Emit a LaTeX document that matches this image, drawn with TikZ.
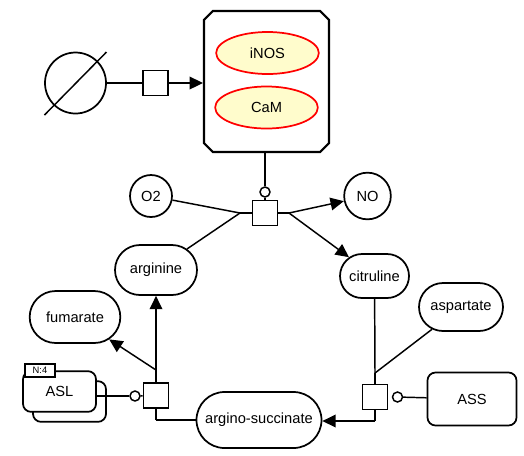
\documentclass[tikz,border=0pt]{standalone}
\usepackage{fontspec}
\setmainfont{Liberation Sans}
\usetikzlibrary{arrows.meta,shapes.misc,shapes.geometric}

\begin{document}
\begin{tikzpicture}[x=0.75pt,y=-0.75pt,
  font=\fontsize{11}{13}\selectfont,
  conn/.style={line width=1.1pt},
  prod/.style={conn,-{Triangle[length=10pt,width=9.5pt]}},
  simplechem/.style={draw,circle,line width=1.3pt,inner sep=0pt},
  macro/.style={draw,rounded rectangle,line width=1.3pt,inner sep=0pt,fill=white},
  enzyme/.style={draw,rectangle,rounded corners=6pt,line width=1.3pt,inner sep=0pt,fill=white},
  protein/.style={draw=red,fill=yellow!20,ellipse,line width=1.3pt,inner sep=0pt,minimum width=77pt,minimum height=31.5pt},
  procbox/.style={draw,rectangle,line width=1.3pt,fill=white,minimum size=18.75pt,inner sep=0pt},
  modcirc/.style={draw,circle,line width=1.1pt,fill=white,minimum size=7.5pt,inner sep=0pt}]

\useasboundingbox (0,0) rectangle (524,455);

% source / sink
\node [simplechem,minimum size=45.75pt] (empty) at (75.5,83) {};
\draw[conn] (empty.center) +(-31,32) -- +(31,-31);

% complex NOS
\node [draw,chamfered rectangle,chamfered rectangle xsep=4pt,line width=1.6pt,
  minimum width=93.75pt,minimum height=105.75pt] (nos) at (266.5,81.5) {};
\node [protein] (inos) at (267.5,53) {iNOS};
\node [protein] (cam) at (266.5,107.5) {CaM};

\node [procbox] (p1) at (155.5,83) {};
\draw[conn] (empty.east) -- (p1.west);
\draw[prod] (p1.east) -- (p1.east -| nos.west);

% NO synthesis
\node [simplechem,minimum size=31.5pt] (o2) at (151,196) {O2};
\node [simplechem,minimum size=35pt] (no) at (367.5,196) {NO};
\node [macro,minimum width=61.5pt,minimum height=37.5pt] (arginine) at (156,270) {arginine};
\node [macro,minimum width=51.75pt,minimum height=33pt] (citruline) at (374.5,276) {citruline};

\node [procbox] (p2) at (265,213) {};
\node [modcirc] (m2) at (265,192) {};
\coordinate (p2l) at (240,213);
\coordinate (p2r) at (289,213);
\draw[conn] (nos.south -| m2) -- (m2);
\draw[conn] (m2) -- (p2);
\draw[conn] (o2) -- (p2l);
\draw[conn] (arginine) -- (p2l);
\draw[conn] (p2l) -- (p2.west);
\draw[conn] (p2.east) -- (p2r);
\draw[prod] (p2r) -- (no);
\draw[prod] (p2r) -- (citruline);

% ASS step
\node [macro,minimum width=63pt,minimum height=36pt] (aspartate) at (461,307) {aspartate};
\node [enzyme,minimum width=66.75pt,minimum height=39.75pt] (ass) at (472,399) {ASS};
\node [macro,minimum width=93.75pt,minimum height=42pt] (succ) at (259,420) {argino-succinate};

\node [procbox] (p3) at (375,397) {};
\coordinate (p3t) at (375,373);
\coordinate (p3b) at (375,421);
\node [modcirc] (m3) at (397.5,397) {};
\draw[conn] (citruline) -- (p3t);
\draw[conn] (aspartate) -- (p3t);
\draw[conn] (p3t) -- (p3.north);
\draw[conn] (p3.south) -- (p3b);
\draw[prod] (p3b) -- (p3b -| succ.east);
\draw[conn] (m3) -- (ass);

% ASL step
\node [macro,minimum width=68pt,minimum height=39pt] (fumarate) at (75,317) {fumarate};
\node [enzyme,minimum width=54.75pt,minimum height=30.5pt] (asl2) at (69.5,401.5) {};
\node [enzyme,minimum width=54.75pt,minimum height=30.5pt] (asl) at (59.5,391.5) {ASL};
\node [draw,rectangle,line width=1.1pt,fill=white,inner sep=0pt,minimum width=22.5pt,
  minimum height=9.5pt,font=\fontsize{7}{8}\selectfont] (aslnum) at (40,370.5) {N:4};

\node [procbox] (p4) at (156,395.5) {};
\coordinate (p4t) at (156,370);
\coordinate (p4b) at (156,420);
\node [modcirc] (m4) at (135,396) {};
\draw[conn] (succ) -- (p4b);
\draw[conn] (p4b) -- (p4.south);
\draw[conn] (p4.north) -- (p4t);
\draw[prod] (p4t) -- (arginine);
\draw[prod] (p4t) -- (fumarate);
\draw[conn] (asl.east |- m4) -- (m4);
\draw[conn] (m4) -- (p4);

\end{tikzpicture}
\end{document}
